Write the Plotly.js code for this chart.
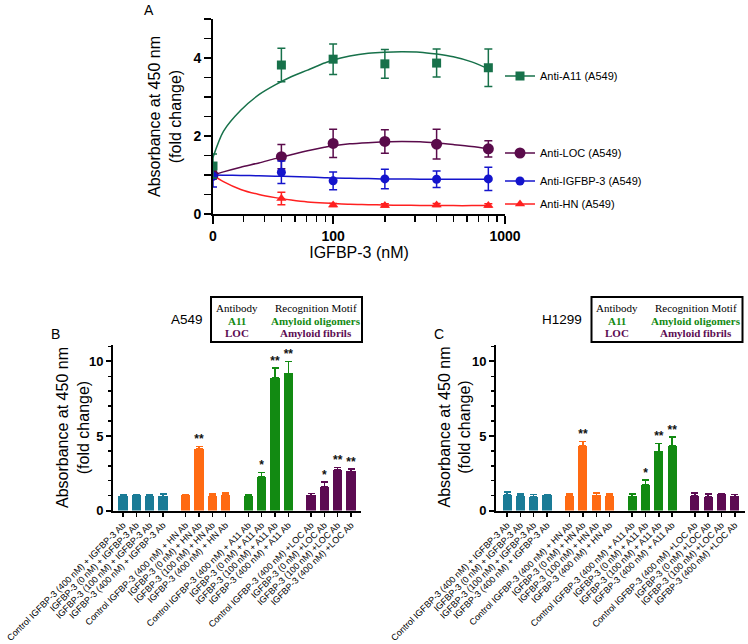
<!DOCTYPE html>
<html><head><meta charset="utf-8">
<script src="https://cdn.plot.ly/plotly-3.0.1.min.js"></script>
<style>body{margin:0;background:#fff}#chart{width:748px;height:644px}</style>
</head><body><div id="chart"></div>
<script>
// ---------- Panel A data ----------
const conc = [0, 50, 100, 200, 400, 800];
const a11 = [1.23, 3.82, 3.97, 3.85, 3.87, 3.75];
const a11Err = [0.31, 0.43, 0.39, 0.37, 0.36, 0.48];
const loc = [1.0, 1.47, 1.81, 1.86, 1.79, 1.67];
const locErr = [0.1, 0.31, 0.36, 0.30, 0.38, 0.21];
const igf = [0.97, 1.07, 0.85, 0.90, 0.89, 0.90];
const igfErr = [0.28, 0.29, 0.23, 0.25, 0.21, 0.30];
const hn = [1.0, 0.40, 0.23, 0.22, 0.23, 0.22];
const hnErr = [0.05, 0.16, 0.04, 0.04, 0.04, 0.04];
const fitX = [0, 23, 29, 37, 46, 57, 71, 89, 100, 125, 160, 200, 250, 320, 400, 500, 640, 800];
const a11Fit = [1.45, 2.12, 2.66, 3.06, 3.31, 3.52, 3.69, 3.87, 3.95, 4.05, 4.12, 4.15, 4.16, 4.15, 4.1, 4.03, 3.9, 3.72];
const locFit = [1.0, 1.08, 1.2, 1.31, 1.42, 1.52, 1.62, 1.71, 1.75, 1.8, 1.83, 1.85, 1.86, 1.85, 1.82, 1.78, 1.73, 1.67];
const igfFit = [1.0, 0.995, 0.99, 0.98, 0.97, 0.96, 0.95, 0.93, 0.92, 0.915, 0.91, 0.9, 0.9, 0.89, 0.89, 0.89, 0.89, 0.9];
const hnFit = [1.0, 0.83, 0.63, 0.5, 0.42, 0.36, 0.31, 0.28, 0.27, 0.25, 0.24, 0.23, 0.225, 0.22, 0.22, 0.215, 0.215, 0.215];
const aTickVals = [0, 100, 1000];
const aTickText = ['0', '100', '1000'];
const aMinorVals = [30, 40, 50, 60, 70, 80, 90, 200, 300, 400, 500, 600, 700, 800, 900];
const seriesNames = ['Anti-A11 (A549)', 'Anti-LOC (A549)', 'Anti-IGFBP-3 (A549)', 'Anti-HN (A549)'];

// ---------- Panels B / C data ----------
const groupNames = ['IGFBP-3 Ab', 'HN Ab', 'A11 Ab', 'LOC Ab'];
const barLabels = [
  ['Control IGFBP-3 (400 nM) + IGFBP-3 Ab', 'IGFBP-3 (0 nM) + IGFBP-3 Ab', 'IGFBP-3 (100 nM) + IGFBP-3 Ab', 'IGFBP-3 (400 nM) + IGFBP-3 Ab'],
  ['Control IGFBP-3 (400 nM) + HN Ab', 'IGFBP-3 (0 nM) + HN Ab', 'IGFBP-3 (100 nM) + HN Ab', 'IGFBP-3 (400 nM) + HN Ab'],
  ['Control IGFBP-3 (400 nM) + A11 Ab', 'IGFBP-3 (0 nM) + A11 Ab', 'IGFBP-3 (100 nM) + A11 Ab', 'IGFBP-3 (400 nM) + A11 Ab'],
  ['Control IGFBP-3 (400 nM) +LOC Ab', 'IGFBP-3 (0 nM) +LOC Ab', 'IGFBP-3 (100 nM) +LOC Ab', 'IGFBP-3 (400 nM) +LOC Ab']
];
const bVals = [[1.0, 1.01, 1.0, 0.95], [1.02, 4.15, 1.0, 1.03], [0.97, 2.25, 8.88, 9.2], [1.02, 1.57, 2.75, 2.62]];
const bErr = [[0.08, 0.06, 0.06, 0.17], [0.04, 0.15, 0.12, 0.15], [0.12, 0.3, 0.67, 0.8], [0.12, 0.33, 0.15, 0.17]];
const bStars = [['', '', '', ''], ['', '**', '', ''], ['', '*', '**', '**'], ['', '*', '**', '**']];
const cVals = [[1.06, 0.97, 0.92, 1.01], [0.97, 4.35, 1.01, 0.97], [0.95, 1.73, 3.96, 4.32], [0.99, 0.9, 1.08, 0.95]];
const cErr = [[0.18, 0.13, 0.15, 0.07], [0.13, 0.28, 0.15, 0.14], [0.15, 0.33, 0.55, 0.62], [0.2, 0.22, 0.05, 0.13]];
const cStars = [['', '', '', ''], ['', '**', '', ''], ['', '*', '**', '**'], ['', '', '', '']];
const barTicks = [0, 5, 10];

// ---------- styling ----------
const W = 748, H = 644;
const px = v => v / W, py = v => 1 - v / H;
const FONT = 'Liberation Sans, Arial, sans-serif';
const SERIF = 'Liberation Serif, Times New Roman, serif';
const aColors = ['#17714a', '#5a0b4b', '#1414cc', '#ff2020'];
const aSymbols = ['square', 'circle', 'circle', 'triangle-up'];
const aSizes = [9, 11, 9, 9];
const barColors = ['#1a7b96', '#ff6a12', '#128a12', '#5c0b52'];
const ZERO_POS = 20; // where "0" is drawn on the log axis
const mapX = arr => arr.map(v => v === 0 ? ZERO_POS : v);

const traces = [];
const aData = [[a11, a11Err, a11Fit], [loc, locErr, locFit], [igf, igfErr, igfFit], [hn, hnErr, hnFit]];
const drawOrder = [3, 1, 2, 0];
const legendIds = ['legend', 'legend2', 'legend3', 'legend4'];
drawOrder.forEach(k => {
  const [vals, errs, fit] = aData[k];
  traces.push({type: 'scatter', mode: 'lines', x: mapX(fitX), y: fit, xaxis: 'x', yaxis: 'y',
    line: {color: aColors[k], width: 1.5, shape: 'spline', smoothing: 0.8}, showlegend: false, hoverinfo: 'skip'});
  traces.push({type: 'scatter', mode: 'markers', x: mapX(conc), y: vals, xaxis: 'x', yaxis: 'y',
    marker: {color: aColors[k], symbol: aSymbols[k], size: aSizes[k]},
    error_y: {type: 'data', array: errs, visible: true, color: aColors[k], thickness: 1.5, width: 4},
    showlegend: false});
});
[0, 1, 2, 3].forEach(k => {
  traces.push({type: 'scatter', mode: 'lines+markers', x: [null], y: [null], xaxis: 'x', yaxis: 'y',
    name: seriesNames[k], legend: legendIds[k],
    line: {color: aColors[k], width: 1.5},
    marker: {color: aColors[k], symbol: aSymbols[k], size: aSizes[k]}});
});

// bar positions
const GROUP_STEP = 4.7;
const barPos = barLabels.map((g, gi) => g.map((_, i) => gi * GROUP_STEP + i));
const allPos = barPos.flat();
const allLabels = barLabels.flat();

function addBars(vals, errs, stars, xa, ya) {
  vals.forEach((v, gi) => {
    traces.push({type: 'bar', x: barPos[gi], y: v, xaxis: xa, yaxis: ya, width: 0.68,
      marker: {color: barColors[gi], line: {width: 0}},
      error_y: {type: 'data', array: errs[gi], arrayminus: errs[gi].map(() => 0), symmetric: false,
        visible: true, color: barColors[gi], thickness: 1.5, width: 3.5},
      showlegend: false, name: groupNames[gi]});
  });
  traces.push({type: 'scatter', mode: 'text', x: allPos,
    y: vals.flat().map((v, i) => v + errs.flat()[i]), text: stars.flat(),
    textposition: 'top center', textfont: {family: FONT, size: 12, color: '#111', weight: 'bold'},
    xaxis: xa, yaxis: ya, showlegend: false, hoverinfo: 'skip', cliponaxis: false});
}
addBars(bVals, bErr, bStars, 'x2', 'y2');
addBars(cVals, cErr, cStars, 'x3', 'y3');

const lineAx = {showline: true, linewidth: 2, linecolor: '#000', showgrid: false, zeroline: false,
  ticks: 'outside', tickwidth: 2, tickcolor: '#000'};
const boldTick = {family: FONT, size: 14, color: '#000', weight: 'bold'};
const titleFont = {family: FONT, size: 16, color: '#000'};
const yTitle = 'Absorbance at 450 nm<br>(fold change)';

function barX(dom, range) {
  return Object.assign({}, lineAx, {domain: dom, range: range, tickmode: 'array', tickvals: allPos,
    ticktext: allLabels, tickangle: -45, ticklen: 4, tickwidth: 1.5,
    tickfont: {family: FONT, size: 9, color: '#000'}, fixedrange: true});
}
function barY(dom, anchor) {
  return Object.assign({}, lineAx, {domain: dom, range: [0, 11.1], tickmode: 'array', tickvals: barTicks,
    ticklen: 5, tickfont: {family: FONT, size: 13, color: '#000', weight: 'bold'},
    minor: {dtick: 1, ticks: 'outside', ticklen: 3.5, tickwidth: 1.5, tickcolor: '#000'},
    anchor: anchor, fixedrange: true});
}

const shapes = [];
const annotations = [];
function addTable(left, label, labelX, panel, panelX, titleX) {
  shapes.push({type: 'rect', xref: 'paper', yref: 'paper', x0: px(left), x1: px(left + 151),
    y0: py(342), y1: py(297), line: {color: '#000', width: 2}});
  const rows = [
    [['Antibody', '#000', 'normal'], ['Recognition Motif', '#000', 'normal']],
    [['A11', '#128a12', 'bold'], ['Amyloid oligomers', '#128a12', 'bold']],
    [['LOC', '#5c0b52', 'bold'], ['Amyloid fibrils', '#5c0b52', 'bold']]
  ];
  const rowY = [308, 320.5, 332.5];
  const colX = [left + 25.5, left + 104.5];
  rows.forEach((r, ri) => r.forEach((c, ci) => {
    annotations.push({xref: 'paper', yref: 'paper', x: px(colX[ci]), y: py(rowY[ri]), text: c[0],
      showarrow: false, xanchor: 'center', yanchor: 'middle',
      font: {family: SERIF, size: 11, color: c[1], weight: c[2]}});
  }));
  annotations.push({xref: 'paper', yref: 'paper', x: px(labelX), y: py(319), text: label, showarrow: false,
    xanchor: 'center', yanchor: 'middle', font: {family: FONT, size: 13.5, color: '#000'}});
  annotations.push({xref: 'paper', yref: 'paper', x: px(panelX), y: py(334), text: panel, showarrow: false,
    xanchor: 'center', yanchor: 'middle', font: {family: FONT, size: 14, color: '#000'}});
  annotations.push({xref: 'paper', yref: 'paper', x: px(titleX), y: py(427.5), text: yTitle, showarrow: false,
    textangle: -90, xanchor: 'center', yanchor: 'middle', font: titleFont});
}
addTable(211, 'A549', 187, 'B', 55, 72.5);
addTable(591.5, 'H1299', 562, 'C', 439, 454);
annotations.push({xref: 'paper', yref: 'paper', x: px(149), y: py(10), text: 'A', showarrow: false,
  xanchor: 'center', yanchor: 'middle', font: {family: FONT, size: 14, color: '#000'}});

const legBase = {xanchor: 'left', yanchor: 'middle', x: px(500), bgcolor: 'rgba(0,0,0,0)',
  font: {family: FONT, size: 11, color: '#000'}, itemwidth: 30, borderwidth: 0};
const legYs = [76, 153, 181, 204];

const layout = {
  width: W, height: H, autosize: false, margin: {l: 0, r: 0, t: 0, b: 0},
  paper_bgcolor: '#fff', plot_bgcolor: 'rgba(0,0,0,0)', showlegend: true, bargap: 0,
  xaxis: Object.assign({}, lineAx, {domain: [px(213), px(505)], type: 'log', range: [Math.log10(20), 3],
    tickmode: 'array', tickvals: mapX(aTickVals), ticktext: aTickText, ticklen: 8, tickfont: boldTick,
    minor: {tickmode: 'array', tickvals: aMinorVals, ticks: 'outside', ticklen: 6, tickwidth: 1.5, tickcolor: '#000'},
    title: {text: 'IGFBP-3 (nM)', font: titleFont, standoff: 0}, anchor: 'y', fixedrange: true}),
  yaxis: Object.assign({}, lineAx, {domain: [py(214), py(19)], range: [0, 5], tickmode: 'array', tickvals: [0, 2, 4],
    ticklen: 7, tickfont: boldTick,
    minor: {dtick: 0.5, ticks: 'outside', ticklen: 7, tickwidth: 1.5, tickcolor: '#000'},
    title: {text: yTitle, font: titleFont, standoff: 8}, anchor: 'x', fixedrange: true}),
  xaxis2: Object.assign(barX([px(113), px(361)], [-0.75, 17.85]), {anchor: 'y2'}),
  yaxis2: barY([py(510.5), py(345)], 'x2'),
  xaxis3: Object.assign(barX([px(496), px(745)], [-0.83, 17.87]), {anchor: 'y3'}),
  yaxis3: barY([py(510.5), py(345)], 'x3'),
  shapes: shapes, annotations: annotations,
  legend: Object.assign({}, legBase, {y: py(legYs[0])}),
  legend2: Object.assign({}, legBase, {y: py(legYs[1])}),
  legend3: Object.assign({}, legBase, {y: py(legYs[2])}),
  legend4: Object.assign({}, legBase, {y: py(legYs[3])})
};
Plotly.newPlot('chart', traces, layout, {staticPlot: true, displayModeBar: false});
</script></body></html>
